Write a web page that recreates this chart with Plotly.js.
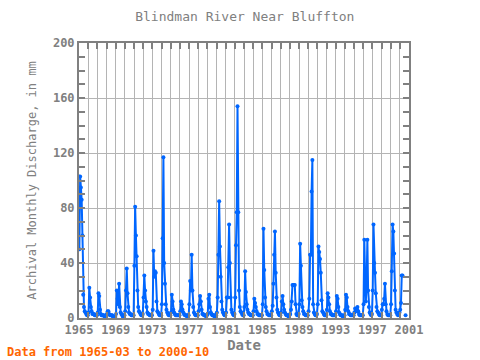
<!DOCTYPE html>
<html><head><meta charset="utf-8">
<script src="https://cdn.plot.ly/plotly-3.0.1.min.js"></script>
<style>html,body{margin:0;padding:0;background:#fff}#chart{width:480px;height:360px}</style>
</head><body><div id="chart"></div>
<script>
// Monthly discharge (mm), Blindman River near Bluffton, 1965-03 .. 2000-10
const startYear = 1965, startMonth = 3;
const d1965 = [50,103,95,86,60,17,8,5,4,3];              // Mar-Dec
const d1966_1969 = [
  2,2,4,22,15,8,5,3,3,3,2,2,
  2,2,4,18,16,6,3,2,2,2,2,1,
  1,1,3,5,5,3,2,2,2,2,1,1,
  1,1,3,20,14,10,25,8,4,3,2,1];
const d1970s = [
  2,2,5,20,36,18,8,4,3,3,2,2,
  2,2,38,81,60,45,20,8,5,4,3,2,
  2,3,15,31,20,12,8,4,3,3,2,2,
  2,2,6,49,30,34,33,12,5,4,3,2,
  2,2,10,58,117,40,25,10,6,4,3,2,
  2,2,4,17,12,6,4,3,2,2,2,2,
  2,2,5,12,10,6,4,3,2,2,2,1,
  2,2,10,27,20,46,20,8,4,3,2,2,
  2,2,5,10,16,12,6,3,3,2,2,2,
  1,2,3,14,17,8,4,3,2,2,2,1];
const d1980s = [
  2,2,4,15,46,85,52,30,12,6,4,3,
  2,2,4,15,15,37,68,40,15,6,4,3,
  2,3,15,53,77,154,77,20,8,5,4,3,
  2,2,8,34,19,10,6,4,3,3,2,2,
  2,2,5,14,11,8,5,3,3,2,2,2,
  2,2,10,65,35,15,8,5,3,3,2,2,
  2,2,5,9,25,46,63,33,15,6,4,3,
  2,2,4,12,16,10,6,4,3,2,2,2,
  1,2,3,6,12,24,24,24,24,10,3,2,
  2,3,10,54,38,13,8,5,3,3,2,2];
const d1990s = [
  2,2,5,14,46,46,92,115,10,4,3,2,
  2,3,10,52,48,43,33,13,5,4,3,2,
  2,2,6,18,15,10,5,3,3,2,2,2,
  2,2,5,16,14,8,4,3,2,2,2,1,
  1,2,6,17,15,8,5,3,3,2,2,2,
  2,2,4,7,6,5,8,5,3,2,2,2,
  2,2,10,57,30,12,25,57,20,8,4,3,
  2,3,20,68,40,33,18,8,5,4,3,2,
  2,2,6,10,10,14,25,10,5,3,2,2,
  2,2,10,34,68,63,47,20,6,4,3,2];
const d2000 = [3,4,6,11,31,31,null,null,null,2];          // Jan-Oct
const values = [].concat(d1965, d1966_1969, d1970s, d1980s, d1990s, d2000);

// time axis positions (decimal years) as placed in the original plot
const xs = values.map((v, i) => {
  const k = startMonth - 1 + i;
  const yr = startYear + Math.floor(k / 12);
  const m = (k % 12) + 1;
  return yr + (m - 2.5) / 12;
});

const tickYears = [1965,1969,1973,1977,1981,1985,1989,1993,1997,2001];
const yTicks = [0,40,80,120,160,200];

const gray = '#808080';
const mono = 'DejaVu Sans Mono, Liberation Mono, monospace';

const trace = {
  x: xs, y: values, type: 'scatter', mode: 'lines+markers',
  connectgaps: false,
  line: {color: '#0066ff', width: 2},
  marker: {color: '#0066ff', size: 4},
  hoverinfo: 'skip'
};

const layout = {
  width: 480, height: 360,
  margin: {l: 79, r: 71, t: 43, b: 42},
  paper_bgcolor: '#fff', plot_bgcolor: '#fff',
  showlegend: false,
  title: {text: 'Blindman River Near Bluffton', x: 0.51, xanchor: 'center', y: 0.953, yanchor: 'middle',
          font: {family: mono, size: 13, color: gray}},
  xaxis: {
    range: [1965, 2001], tickmode: 'array', tickvals: tickYears, ticktext: tickYears.map(String),
    showgrid: true, gridcolor: '#b4b4b4', gridwidth: 1,
    ticks: 'inside', ticklen: 6, tickwidth: 2, tickcolor: gray,
    minor: {dtick: 1, tick0: 1965, showgrid: true, gridcolor: '#b4b4b4', gridwidth: 1, ticks: 'inside', ticklen: 6, tickwidth: 2, tickcolor: gray},
    showline: true, linecolor: gray, linewidth: 2, mirror: 'ticks', zeroline: false,
    tickfont: {family: mono, size: 12, color: gray, weight: 'bold'},
    title: {text: 'Date', standoff: 3, font: {family: mono, size: 14, color: gray, weight: 'bold'}}
  },
  yaxis: {
    range: [0, 200], tickmode: 'array', tickvals: yTicks, ticktext: yTicks.map(String),
    showgrid: true, gridcolor: '#b4b4b4', gridwidth: 1,
    ticks: 'inside', ticklen: 6, tickwidth: 2, tickcolor: gray,
    minor: {dtick: 10, tick0: 0, showgrid: false, ticks: 'inside', ticklen: 6, tickwidth: 2, tickcolor: gray},
    showline: true, linecolor: gray, linewidth: 2, mirror: 'ticks', zeroline: false,
    tickfont: {family: mono, size: 12, color: gray, weight: 'bold'},
    title: {text: 'Archival Monthly Discharge, in mm', standoff: 14, font: {family: mono, size: 12, color: gray}}
  },
  annotations: [{
    text: 'Data from 1965-03 to 2000-10', xref: 'paper', yref: 'paper',
    x: -0.224, xanchor: 'left', y: -0.124, yanchor: 'middle', showarrow: false,
    font: {family: mono, size: 12, color: '#ff6600', weight: 'bold'}
  }]
};

Plotly.newPlot('chart', [trace], layout, {staticPlot: true, displayModeBar: false});
</script>
</body></html>
